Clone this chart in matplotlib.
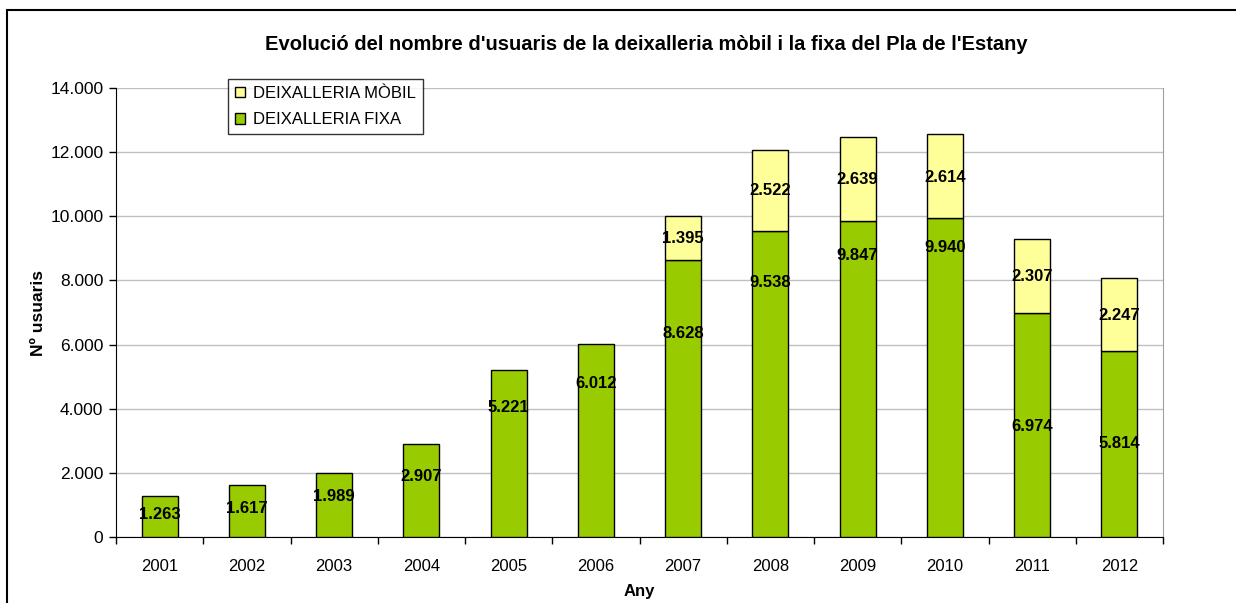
import matplotlib
matplotlib.use("Agg")
import matplotlib.pyplot as plt
from matplotlib.patches import Rectangle, Patch
from matplotlib.ticker import FuncFormatter, MultipleLocator
import numpy as np

plt.rcParams['font.family'] = ['Liberation Sans', 'DejaVu Sans']

years = ['2001', '2002', '2003', '2004', '2005', '2006',
         '2007', '2008', '2009', '2010', '2011', '2012']
fixa = [1263, 1617, 1989, 2907, 5221, 6012, 8628, 9538, 9847, 9940, 6974, 5814]
mobil = [0, 0, 0, 0, 0, 0, 1395, 2522, 2639, 2614, 2307, 2247]

# heights (in users) at which each value label sits
fixa_label_y = [690, 900, 1250, 1900, 4050, 4800, 6360, 7950, 8790, 9040, 3460, 2900]
mobil_label_y = [None] * 6 + [9320, 10790, 11160, 11220, 8110, 6920]

title = "Evolució del nombre d'usuaris de la deixalleria mòbil i la fixa del Pla de l'Estany"
green = '#99CC00'
yellow = '#FFFF99'


def thousands(v, _pos=None):
    return f"{int(round(v)):,}".replace(',', '.')


fig = plt.figure(figsize=(12.36, 6.03), dpi=100)
ax = fig.add_axes([116 / 1236, 1 - 537 / 603, (1163 - 116) / 1236, (537 - 88) / 603])

x = np.arange(len(years))
w = 0.41
ax.bar(x, fixa, width=w, color=green, edgecolor='black', linewidth=1.0, zorder=3)
has_mobil = [m > 0 for m in mobil]
ax.bar(x[has_mobil], np.array(mobil)[has_mobil], width=w,
       bottom=np.array(fixa)[has_mobil], color=yellow, edgecolor='black',
       linewidth=1.0, zorder=3)

for xi, v, ly in zip(x, fixa, fixa_label_y):
    ax.text(xi, ly, thousands(v), ha='center', va='center',
            fontsize=12, fontweight='bold', zorder=4)
for xi, v, ly in zip(x, mobil, mobil_label_y):
    if v and ly is not None:
        ax.text(xi, ly, thousands(v), ha='center', va='center',
                fontsize=12, fontweight='bold', zorder=4)

ax.set_xlim(-0.5, len(years) - 0.5)
ax.set_ylim(0, 14000)
ax.yaxis.set_major_locator(MultipleLocator(2000))
ax.yaxis.set_major_formatter(FuncFormatter(thousands))
ax.grid(axis='y', color='#C0C0C0', linewidth=1.0, zorder=0)

ax.set_xticks(x)
ax.set_xticklabels(years)
ax.set_xticks(np.arange(-0.5, len(years)), minor=True)
ax.tick_params(axis='x', which='major', length=0, pad=16, labelsize=12)
ax.tick_params(axis='x', which='minor', length=5, width=1, direction='out')
ax.tick_params(axis='y', which='major', length=5, width=1, direction='out',
               labelsize=12.5, pad=4)

ax.spines['top'].set_visible(False)
ax.spines['right'].set_color('#A0A0A0')
ax.spines['left'].set_color('black')
ax.spines['bottom'].set_color('black')

ax.set_xlabel('Any', fontsize=12, fontweight='bold', labelpad=7)
ax.set_ylabel('Nº usuaris', fontsize=12.5, fontweight='bold', labelpad=3)

fig.text(646 / 1236, 1 - 44 / 603, title, ha='center', va='center',
         fontsize=14.5, fontweight='bold')

handles = [Patch(facecolor=yellow, edgecolor='black', linewidth=1.0),
           Patch(facecolor=green, edgecolor='black', linewidth=1.0)]
labels = ['DEIXALLERIA MÒBIL', 'DEIXALLERIA FIXA']
leg = ax.legend(handles, labels, loc='upper left',
                bbox_to_anchor=((228 - 116) / 1047, 1 + 9 / 449),
                frameon=True, fancybox=False, fontsize=12,
                handlelength=0.6, handleheight=0.6, handletextpad=0.5,
                borderpad=0.4, labelspacing=0.7, borderaxespad=0)
leg.get_frame().set_edgecolor('black')
leg.get_frame().set_linewidth(1.0)

# outer chart border
fig.patches.append(Rectangle((7 / 1236, -0.05), 1.1, 1 - 10 / 603 + 0.05,
                             transform=fig.transFigure, fill=False,
                             edgecolor='black', linewidth=1.5))

fig.savefig('out.png', dpi=100)
